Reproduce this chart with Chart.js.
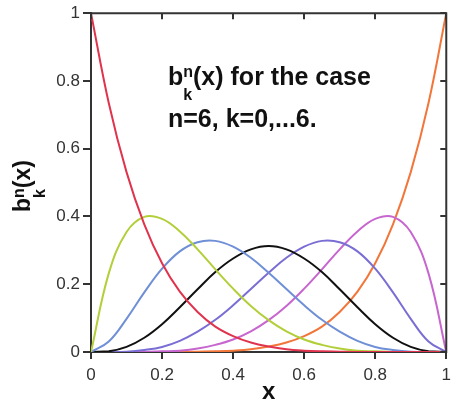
<!DOCTYPE html>
<html>
<head>
<meta charset="utf-8">
<script src="https://cdn.jsdelivr.net/npm/chart.js@4/dist/chart.umd.min.js"></script>
<style>
  html, body { margin: 0; padding: 0; background: #fff; }
</style>
</head>
<body>
<canvas id="chart" width="457" height="405"></canvas>
<script>
// x の値（0〜1、0.05刻み）
const xValues = [0, 0.05, 0.1, 0.15, 0.2, 0.25, 0.3, 0.35, 0.4, 0.45, 0.5,
                 0.55, 0.6, 0.65, 0.7, 0.75, 0.8, 0.85, 0.9, 0.95, 1];

// 各曲線 b_k^6(x) の読み取り値
const k0 = [1, 0.735, 0.531, 0.377, 0.262, 0.178, 0.118, 0.075, 0.047, 0.028, 0.016,
            0.008, 0.004, 0.002, 0.001, 0, 0, 0, 0, 0, 0];
const k1 = [0, 0.232, 0.354, 0.399, 0.393, 0.356, 0.303, 0.244, 0.187, 0.136, 0.094,
            0.061, 0.037, 0.021, 0.010, 0.004, 0.002, 0, 0, 0, 0];
const k2 = [0, 0.031, 0.098, 0.176, 0.246, 0.297, 0.324, 0.328, 0.311, 0.278, 0.234,
            0.186, 0.138, 0.095, 0.060, 0.033, 0.015, 0.006, 0.001, 0, 0];
const k3 = [0, 0.002, 0.015, 0.042, 0.082, 0.132, 0.185, 0.236, 0.276, 0.303, 0.313,
            0.303, 0.276, 0.236, 0.185, 0.132, 0.082, 0.042, 0.015, 0.002, 0];
const k4 = [0, 0, 0.001, 0.006, 0.015, 0.033, 0.060, 0.095, 0.138, 0.186, 0.234,
            0.278, 0.311, 0.328, 0.324, 0.297, 0.246, 0.176, 0.098, 0.031, 0];
const k5 = [0, 0, 0, 0, 0.002, 0.004, 0.010, 0.021, 0.037, 0.061, 0.094,
            0.136, 0.187, 0.244, 0.303, 0.356, 0.393, 0.399, 0.354, 0.232, 0];
const k6 = [0, 0, 0, 0, 0, 0, 0.001, 0.002, 0.004, 0.008, 0.016,
            0.028, 0.047, 0.075, 0.118, 0.178, 0.262, 0.377, 0.531, 0.735, 1];

// 目盛り
const xTicks = [0, 0.2, 0.4, 0.6, 0.8, 1];
const yTicks = [0, 0.2, 0.4, 0.6, 0.8, 1];

const series = [k0, k1, k2, k3, k4, k5, k6];
const colors = ['#e0344e', '#b2cf3a', '#6f8fd6', '#111111', '#7a6ed4', '#c766cf', '#f2763a'];

const FONT = '"Liberation Sans", Arial, sans-serif';
const AXIS = '#333';

// b_k^n を描く（b の後に上付き n、下付き k）
function drawBkn(ctx, x, y, bigSize, smallSize, supDy, subDy) {
  ctx.font = 'bold ' + bigSize + 'px ' + FONT;
  ctx.fillText('b', x, y);
  const wb = ctx.measureText('b').width;
  ctx.font = 'bold ' + smallSize + 'px ' + FONT;
  ctx.fillText('n', x + wb, y + supDy);
  ctx.fillText('k', x + wb, y + subDy);
  const ws = Math.max(ctx.measureText('n').width, ctx.measureText('k').width);
  ctx.font = 'bold ' + bigSize + 'px ' + FONT;
  return x + wb + ws;
}

// 枠線・内向き目盛り・注記
const framePlugin = {
  id: 'frame',
  afterDraw(chart) {
    const ctx = chart.ctx;
    const {left, right, top, bottom} = chart.chartArea;
    const sx = chart.scales.x, sy = chart.scales.y;
    ctx.save();
    ctx.strokeStyle = AXIS;
    ctx.lineWidth = 2;
    ctx.beginPath();
    ctx.moveTo(left - 1, top);
    ctx.lineTo(right, top);
    ctx.lineTo(right, bottom + 1);
    xTicks.forEach(v => {
      const px = Math.round(sx.getPixelForValue(v));
      ctx.moveTo(px, top);
      ctx.lineTo(px, top + 6);
    });
    yTicks.forEach(v => {
      const py = Math.round(sy.getPixelForValue(v));
      ctx.moveTo(right, py);
      ctx.lineTo(right - 6, py);
    });
    ctx.stroke();

    ctx.fillStyle = '#111';
    ctx.textBaseline = 'alphabetic';
    ctx.textAlign = 'left';
    // 注記
    let x = drawBkn(ctx, 168, 85, 25, 16, -8, 15);
    ctx.fillText('(x) for the case', x, 85);
    ctx.fillText('n=6, k=0,...6.', 168, 127);

    // y 軸タイトル（回転）
    ctx.translate(30, 212);
    ctx.rotate(-Math.PI / 2);
    x = drawBkn(ctx, 0, 0, 23, 16, -6, 15);
    ctx.fillText('(x)', x, 0);
    ctx.restore();
  }
};

new Chart(document.getElementById('chart'), {
  type: 'line',
  data: {
    datasets: series.map((s, i) => ({
      label: 'k=' + i,
      data: s.map((v, j) => ({x: xValues[j], y: v})),
      borderColor: colors[i],
      borderWidth: 2,
      pointRadius: 0,
      fill: false,
      tension: 0.4
    }))
  },
  options: {
    responsive: false,
    animation: false,
    layout: {padding: {top: 13, right: 3, left: 0, bottom: 0}},
    plugins: {legend: {display: false}, tooltip: {enabled: false}},
    scales: {
      x: {
        type: 'linear',
        min: 0,
        max: 1,
        afterBuildTicks: s => { s.ticks = xTicks.map(v => ({value: v})); },
        afterFit: s => { s.height = 53; },
        ticks: {
          font: {family: FONT, size: 17},
          color: AXIS,
          padding: 6,
          maxRotation: 0,
          callback: v => String(v)
        },
        grid: {drawOnChartArea: false, tickLength: 7, color: AXIS, lineWidth: 2},
        border: {color: AXIS, width: 2},
        title: {
          display: true,
          text: 'x',
          color: '#111',
          font: {family: FONT, size: 24, weight: 'bold'},
          padding: {top: 0, bottom: -2}
        }
      },
      y: {
        min: 0,
        max: 1,
        afterBuildTicks: s => { s.ticks = yTicks.map(v => ({value: v})); },
        afterFit: s => { s.width = 91; },
        ticks: {
          font: {family: FONT, size: 17},
          color: AXIS,
          padding: 3,
          callback: v => String(v)
        },
        grid: {drawOnChartArea: false, tickLength: 8, color: AXIS, lineWidth: 2},
        border: {color: AXIS, width: 2}
      }
    }
  },
  plugins: [framePlugin]
});
</script>
</body>
</html>
